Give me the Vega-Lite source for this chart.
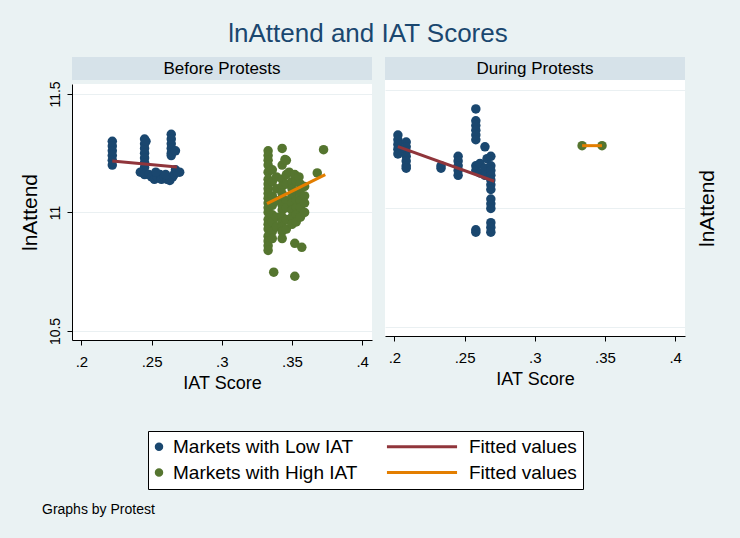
{
  "$schema": "https://vega.github.io/schema/vega-lite/v6.json",
  "background": "#eaf2f3",
  "padding": {"left": 19, "top": 21, "right": 23, "bottom": 23},
  "config": {
    "font": "Liberation Sans",
    "view": {"stroke": null},
    "axis": {"domainColor": "#000", "tickColor": "#000", "labelColor": "#000", "titleColor": "#000", "titleFontWeight": "normal", "gridColor": "#eaf0f2", "domainWidth": 1, "tickWidth": 1, "tickSize": 5},
    "legend": {
      "orient": "none", "legendX": 76, "legendY": 374,
      "columns": 2, "columnPadding": 22, "rowPadding": 6, "padding": 6,
      "fillColor": "white", "strokeColor": "#000",
      "labelFontSize": 19, "labelColor": "#000", "labelOffset": 8, "labelLimit": 300,
      "symbolSize": 30, "symbolStrokeWidth": 3
    }
  },
  "datasets": {
    "pts": [
      {"p":"B","s":"Markets with Low IAT","x":0.222,"y":11.30},
      {"p":"B","s":"Markets with Low IAT","x":0.222,"y":11.28},
      {"p":"B","s":"Markets with Low IAT","x":0.222,"y":11.26},
      {"p":"B","s":"Markets with Low IAT","x":0.222,"y":11.24},
      {"p":"B","s":"Markets with Low IAT","x":0.222,"y":11.22},
      {"p":"B","s":"Markets with Low IAT","x":0.222,"y":11.20},
      {"p":"B","s":"Markets with Low IAT","x":0.245,"y":11.31},
      {"p":"B","s":"Markets with Low IAT","x":0.245,"y":11.29},
      {"p":"B","s":"Markets with Low IAT","x":0.245,"y":11.27},
      {"p":"B","s":"Markets with Low IAT","x":0.245,"y":11.25},
      {"p":"B","s":"Markets with Low IAT","x":0.245,"y":11.23},
      {"p":"B","s":"Markets with Low IAT","x":0.245,"y":11.21},
      {"p":"B","s":"Markets with Low IAT","x":0.245,"y":11.19},
      {"p":"B","s":"Markets with Low IAT","x":0.246,"y":11.30},
      {"p":"B","s":"Markets with Low IAT","x":0.264,"y":11.33},
      {"p":"B","s":"Markets with Low IAT","x":0.264,"y":11.31},
      {"p":"B","s":"Markets with Low IAT","x":0.264,"y":11.29},
      {"p":"B","s":"Markets with Low IAT","x":0.264,"y":11.27},
      {"p":"B","s":"Markets with Low IAT","x":0.264,"y":11.25},
      {"p":"B","s":"Markets with Low IAT","x":0.264,"y":11.24},
      {"p":"B","s":"Markets with Low IAT","x":0.267,"y":11.26},
      {"p":"B","s":"Markets with Low IAT","x":0.267,"y":11.18},
      {"p":"B","s":"Markets with Low IAT","x":0.242,"y":11.17},
      {"p":"B","s":"Markets with Low IAT","x":0.245,"y":11.16},
      {"p":"B","s":"Markets with Low IAT","x":0.248,"y":11.16},
      {"p":"B","s":"Markets with Low IAT","x":0.250,"y":11.15},
      {"p":"B","s":"Markets with Low IAT","x":0.252,"y":11.14},
      {"p":"B","s":"Markets with Low IAT","x":0.254,"y":11.15},
      {"p":"B","s":"Markets with Low IAT","x":0.256,"y":11.16},
      {"p":"B","s":"Markets with Low IAT","x":0.257,"y":11.14},
      {"p":"B","s":"Markets with Low IAT","x":0.259,"y":11.15},
      {"p":"B","s":"Markets with Low IAT","x":0.261,"y":11.14},
      {"p":"B","s":"Markets with Low IAT","x":0.263,"y":11.135},
      {"p":"B","s":"Markets with Low IAT","x":0.265,"y":11.15},
      {"p":"B","s":"Markets with Low IAT","x":0.266,"y":11.16},
      {"p":"B","s":"Markets with Low IAT","x":0.268,"y":11.17},
      {"p":"B","s":"Markets with Low IAT","x":0.270,"y":11.17},
      {"p":"B","s":"Markets with Low IAT","x":0.253,"y":11.17},
      {"p":"B","s":"Markets with Low IAT","x":0.260,"y":11.16},

      {"p":"B","s":"Markets with High IAT","x":0.333,"y":11.26},
      {"p":"B","s":"Markets with High IAT","x":0.333,"y":11.24},
      {"p":"B","s":"Markets with High IAT","x":0.333,"y":11.22},
      {"p":"B","s":"Markets with High IAT","x":0.333,"y":11.20},
      {"p":"B","s":"Markets with High IAT","x":0.333,"y":11.17},
      {"p":"B","s":"Markets with High IAT","x":0.333,"y":11.14},
      {"p":"B","s":"Markets with High IAT","x":0.333,"y":11.12},
      {"p":"B","s":"Markets with High IAT","x":0.333,"y":11.10},
      {"p":"B","s":"Markets with High IAT","x":0.333,"y":11.08},
      {"p":"B","s":"Markets with High IAT","x":0.333,"y":11.06},
      {"p":"B","s":"Markets with High IAT","x":0.333,"y":11.04},
      {"p":"B","s":"Markets with High IAT","x":0.333,"y":11.02},
      {"p":"B","s":"Markets with High IAT","x":0.333,"y":11.00},
      {"p":"B","s":"Markets with High IAT","x":0.333,"y":10.97},
      {"p":"B","s":"Markets with High IAT","x":0.333,"y":10.95},
      {"p":"B","s":"Markets with High IAT","x":0.333,"y":10.93},
      {"p":"B","s":"Markets with High IAT","x":0.333,"y":10.90},
      {"p":"B","s":"Markets with High IAT","x":0.333,"y":10.88},
      {"p":"B","s":"Markets with High IAT","x":0.333,"y":10.86},
      {"p":"B","s":"Markets with High IAT","x":0.333,"y":10.84},
      {"p":"B","s":"Markets with High IAT","x":0.336,"y":11.18},
      {"p":"B","s":"Markets with High IAT","x":0.336,"y":11.13},
      {"p":"B","s":"Markets with High IAT","x":0.336,"y":11.07},
      {"p":"B","s":"Markets with High IAT","x":0.336,"y":11.03},
      {"p":"B","s":"Markets with High IAT","x":0.336,"y":10.99},
      {"p":"B","s":"Markets with High IAT","x":0.336,"y":10.96},
      {"p":"B","s":"Markets with High IAT","x":0.336,"y":10.92},
      {"p":"B","s":"Markets with High IAT","x":0.336,"y":10.89},
      {"p":"B","s":"Markets with High IAT","x":0.339,"y":11.15},
      {"p":"B","s":"Markets with High IAT","x":0.339,"y":11.10},
      {"p":"B","s":"Markets with High IAT","x":0.339,"y":11.05},
      {"p":"B","s":"Markets with High IAT","x":0.339,"y":10.98},
      {"p":"B","s":"Markets with High IAT","x":0.339,"y":10.94},
      {"p":"B","s":"Markets with High IAT","x":0.343,"y":11.27},
      {"p":"B","s":"Markets with High IAT","x":0.343,"y":11.20},
      {"p":"B","s":"Markets with High IAT","x":0.343,"y":11.14},
      {"p":"B","s":"Markets with High IAT","x":0.343,"y":11.11},
      {"p":"B","s":"Markets with High IAT","x":0.343,"y":11.08},
      {"p":"B","s":"Markets with High IAT","x":0.343,"y":11.06},
      {"p":"B","s":"Markets with High IAT","x":0.343,"y":11.03},
      {"p":"B","s":"Markets with High IAT","x":0.343,"y":11.01},
      {"p":"B","s":"Markets with High IAT","x":0.343,"y":10.98},
      {"p":"B","s":"Markets with High IAT","x":0.343,"y":10.96},
      {"p":"B","s":"Markets with High IAT","x":0.343,"y":10.94},
      {"p":"B","s":"Markets with High IAT","x":0.343,"y":10.92},
      {"p":"B","s":"Markets with High IAT","x":0.343,"y":10.89},
      {"p":"B","s":"Markets with High IAT","x":0.346,"y":11.22},
      {"p":"B","s":"Markets with High IAT","x":0.346,"y":11.16},
      {"p":"B","s":"Markets with High IAT","x":0.346,"y":11.12},
      {"p":"B","s":"Markets with High IAT","x":0.346,"y":11.05},
      {"p":"B","s":"Markets with High IAT","x":0.346,"y":11.02},
      {"p":"B","s":"Markets with High IAT","x":0.346,"y":10.97},
      {"p":"B","s":"Markets with High IAT","x":0.346,"y":10.93},
      {"p":"B","s":"Markets with High IAT","x":0.348,"y":11.17},
      {"p":"B","s":"Markets with High IAT","x":0.350,"y":11.13},
      {"p":"B","s":"Markets with High IAT","x":0.350,"y":11.10},
      {"p":"B","s":"Markets with High IAT","x":0.350,"y":11.07},
      {"p":"B","s":"Markets with High IAT","x":0.350,"y":11.04},
      {"p":"B","s":"Markets with High IAT","x":0.350,"y":11.01},
      {"p":"B","s":"Markets with High IAT","x":0.350,"y":10.98},
      {"p":"B","s":"Markets with High IAT","x":0.350,"y":10.95},
      {"p":"B","s":"Markets with High IAT","x":0.352,"y":11.16},
      {"p":"B","s":"Markets with High IAT","x":0.353,"y":11.13},
      {"p":"B","s":"Markets with High IAT","x":0.353,"y":11.09},
      {"p":"B","s":"Markets with High IAT","x":0.353,"y":11.05},
      {"p":"B","s":"Markets with High IAT","x":0.353,"y":11.02},
      {"p":"B","s":"Markets with High IAT","x":0.353,"y":10.99},
      {"p":"B","s":"Markets with High IAT","x":0.353,"y":10.96},
      {"p":"B","s":"Markets with High IAT","x":0.355,"y":11.15},
      {"p":"B","s":"Markets with High IAT","x":0.356,"y":11.12},
      {"p":"B","s":"Markets with High IAT","x":0.356,"y":11.08},
      {"p":"B","s":"Markets with High IAT","x":0.356,"y":11.05},
      {"p":"B","s":"Markets with High IAT","x":0.356,"y":11.02},
      {"p":"B","s":"Markets with High IAT","x":0.356,"y":10.98},
      {"p":"B","s":"Markets with High IAT","x":0.359,"y":11.11},
      {"p":"B","s":"Markets with High IAT","x":0.359,"y":11.07},
      {"p":"B","s":"Markets with High IAT","x":0.359,"y":11.04},
      {"p":"B","s":"Markets with High IAT","x":0.359,"y":11.00},
      {"p":"B","s":"Markets with High IAT","x":0.337,"y":10.748},
      {"p":"B","s":"Markets with High IAT","x":0.352,"y":10.731},
      {"p":"B","s":"Markets with High IAT","x":0.352,"y":10.87},
      {"p":"B","s":"Markets with High IAT","x":0.357,"y":10.853},
      {"p":"B","s":"Markets with High IAT","x":0.368,"y":11.167},
      {"p":"B","s":"Markets with High IAT","x":0.3725,"y":11.265},
      {"p":"B","s":"Markets with High IAT","x":0.345,"y":11.223},

      {"p":"D","s":"Markets with Low IAT","x":0.2025,"y":11.31},
      {"p":"D","s":"Markets with Low IAT","x":0.2025,"y":11.29},
      {"p":"D","s":"Markets with Low IAT","x":0.2025,"y":11.27},
      {"p":"D","s":"Markets with Low IAT","x":0.2025,"y":11.25},
      {"p":"D","s":"Markets with Low IAT","x":0.2025,"y":11.23},
      {"p":"D","s":"Markets with Low IAT","x":0.2084,"y":11.28},
      {"p":"D","s":"Markets with Low IAT","x":0.2084,"y":11.26},
      {"p":"D","s":"Markets with Low IAT","x":0.2084,"y":11.24},
      {"p":"D","s":"Markets with Low IAT","x":0.2084,"y":11.22},
      {"p":"D","s":"Markets with Low IAT","x":0.2084,"y":11.20},
      {"p":"D","s":"Markets with Low IAT","x":0.2084,"y":11.18},
      {"p":"D","s":"Markets with Low IAT","x":0.2084,"y":11.17},
      {"p":"D","s":"Markets with Low IAT","x":0.2332,"y":11.18},
      {"p":"D","s":"Markets with Low IAT","x":0.2332,"y":11.17},
      {"p":"D","s":"Markets with Low IAT","x":0.2454,"y":11.22},
      {"p":"D","s":"Markets with Low IAT","x":0.2454,"y":11.20},
      {"p":"D","s":"Markets with Low IAT","x":0.2454,"y":11.18},
      {"p":"D","s":"Markets with Low IAT","x":0.2454,"y":11.16},
      {"p":"D","s":"Markets with Low IAT","x":0.2454,"y":11.14},
      {"p":"D","s":"Markets with Low IAT","x":0.258,"y":11.42},
      {"p":"D","s":"Markets with Low IAT","x":0.258,"y":11.37},
      {"p":"D","s":"Markets with Low IAT","x":0.258,"y":11.35},
      {"p":"D","s":"Markets with Low IAT","x":0.258,"y":11.33},
      {"p":"D","s":"Markets with Low IAT","x":0.258,"y":11.31},
      {"p":"D","s":"Markets with Low IAT","x":0.258,"y":11.29},
      {"p":"D","s":"Markets with Low IAT","x":0.258,"y":11.18},
      {"p":"D","s":"Markets with Low IAT","x":0.258,"y":11.16},
      {"p":"D","s":"Markets with Low IAT","x":0.258,"y":10.91},
      {"p":"D","s":"Markets with Low IAT","x":0.258,"y":10.90},
      {"p":"D","s":"Markets with Low IAT","x":0.261,"y":11.19},
      {"p":"D","s":"Markets with Low IAT","x":0.261,"y":11.15},
      {"p":"D","s":"Markets with Low IAT","x":0.2645,"y":11.26},
      {"p":"D","s":"Markets with Low IAT","x":0.2645,"y":11.17},
      {"p":"D","s":"Markets with Low IAT","x":0.2645,"y":11.14},
      {"p":"D","s":"Markets with Low IAT","x":0.266,"y":11.21},
      {"p":"D","s":"Markets with Low IAT","x":0.2687,"y":11.22},
      {"p":"D","s":"Markets with Low IAT","x":0.2687,"y":11.18},
      {"p":"D","s":"Markets with Low IAT","x":0.2687,"y":11.16},
      {"p":"D","s":"Markets with Low IAT","x":0.2687,"y":11.14},
      {"p":"D","s":"Markets with Low IAT","x":0.2687,"y":11.12},
      {"p":"D","s":"Markets with Low IAT","x":0.2687,"y":11.10},
      {"p":"D","s":"Markets with Low IAT","x":0.2687,"y":11.08},
      {"p":"D","s":"Markets with Low IAT","x":0.2687,"y":11.04},
      {"p":"D","s":"Markets with Low IAT","x":0.2687,"y":11.02},
      {"p":"D","s":"Markets with Low IAT","x":0.2687,"y":11.00},
      {"p":"D","s":"Markets with Low IAT","x":0.2687,"y":10.94},
      {"p":"D","s":"Markets with Low IAT","x":0.2687,"y":10.92},
      {"p":"D","s":"Markets with Low IAT","x":0.2687,"y":10.90},

      {"p":"D","s":"Markets with High IAT","x":0.3337,"y":11.265},
      {"p":"D","s":"Markets with High IAT","x":0.3479,"y":11.265}
    ],
    "fit": [
      {"p":"B","s":"Fitted low","x":0.222,"y":11.217},
      {"p":"B","s":"Fitted low","x":0.268,"y":11.192},
      {"p":"B","s":"Fitted high","x":0.3322,"y":11.037},
      {"p":"B","s":"Fitted high","x":0.3737,"y":11.16},
      {"p":"D","s":"Fitted low","x":0.2025,"y":11.261},
      {"p":"D","s":"Fitted low","x":0.2711,"y":11.115},
      {"p":"D","s":"Fitted high","x":0.3337,"y":11.265},
      {"p":"D","s":"Fitted high","x":0.3479,"y":11.265}
    ]
  },
  "title": {"text": "lnAttend and IAT Scores", "fontSize": 26, "fontWeight": "normal", "color": "#1a476f", "anchor": "middle", "offset": 10},
  "vconcat": [
    {
      "title": {"text": "Graphs by Protest", "orient": "bottom", "anchor": "start", "fontSize": 14, "fontWeight": "normal", "color": "#000", "offset": 111, "dx": 23},
      "spacing": 13,
      "hconcat": [
        {
          "spacing": 0,
          "vconcat": [
            {
              "data": {"values": [{"t": "Before Protests"}]},
              "width": 300, "height": 23,
              "view": {"fill": "#d6e2e9", "stroke": null},
              "mark": {"type": "text", "fontSize": 17, "color": "#000"},
              "encoding": {"text": {"field": "t"}}
            },
            {
              "width": 300, "height": 256,
              "view": {"fill": "white", "stroke": null},
              "layer": [
                {
                  "data": {"name": "pts"},
                  "transform": [{"filter": "datum.p == 'B'"}],
                  "mark": {"type": "circle", "size": 90, "opacity": 1},
                  "encoding": {
                    "x": {"field": "x", "type": "quantitative", "scale": {"domain": [0.1933, 0.407], "nice": false, "zero": false},
                      "axis": {"values": [0.2, 0.25, 0.3, 0.35, 0.4], "labelExpr": "replace(format(datum.value, '.2~f'), '0.', '.')", "labelFontSize": 15, "labelPadding": 9, "grid": false, "title": "IAT Score", "titleFontSize": 18, "titlePadding": 5}},
                    "y": {"field": "y", "type": "quantitative", "scale": {"domain": [10.462, 11.542], "nice": false, "zero": false},
                      "axis": {"values": [10.5, 11, 11.5], "format": "~g", "labelAngle": 270, "labelAlign": "center", "labelBaseline": "bottom", "labelPadding": 5, "labelFontSize": 14, "grid": true, "title": "lnAttend", "titleFontSize": 21, "titlePadding": 8}},
                    "color": {"field": "s", "type": "nominal",
                      "scale": {"domain": ["Markets with Low IAT", "Markets with High IAT", "Fitted low", "Fitted high"], "range": ["#1a476f", "#55752f", "#90353b", "#e37e00"]},
                      "legend": {
                        "title": null,
                        "labelExpr": "indexof(datum.label, 'Fitted') == 0 ? 'Fitted values' : datum.label",
                        "encode": {
                          "symbols": {"update": {
                            "shape": {"signal": "indexof(datum.value, 'Fitted') == 0 ? 'M-12.8,0H12.8' : 'circle'"},
                            "x": {"signal": "indexof(datum.value, 'Fitted') == 0 ? 35 : 5"},
                            "fill": {"scale": "color", "field": "value"},
                            "stroke": {"scale": "color", "field": "value"},
                            "opacity": {"value": 1}
                          }},
                          "labels": {"update": {
                            "x": {"signal": "indexof(datum.value, 'Fitted') == 0 ? 82 : 19"}
                          }}
                        }
                      }}
                  }
                },
                {
                  "data": {"name": "fit"},
                  "transform": [{"filter": "datum.p == 'B'"}],
                  "mark": {"type": "line", "strokeWidth": 3},
                  "encoding": {
                    "x": {"field": "x", "type": "quantitative"},
                    "y": {"field": "y", "type": "quantitative"},
                    "color": {"field": "s", "type": "nominal",
                      "legend": {
                        "title": null,
                        "labelExpr": "indexof(datum.label, 'Fitted') == 0 ? 'Fitted values' : datum.label",
                        "encode": {
                          "symbols": {"update": {
                            "shape": {"signal": "indexof(datum.value, 'Fitted') == 0 ? 'M-12.8,0H12.8' : 'circle'"},
                            "x": {"signal": "indexof(datum.value, 'Fitted') == 0 ? 35 : 5"},
                            "fill": {"scale": "color", "field": "value"},
                            "stroke": {"scale": "color", "field": "value"},
                            "opacity": {"value": 1}
                          }},
                          "labels": {"update": {
                            "x": {"signal": "indexof(datum.value, 'Fitted') == 0 ? 82 : 19"}
                          }}
                        }
                      }},
                    "detail": {"field": "s"}
                  }
                }
              ]
            }
          ]
        },
        {
          "spacing": 0,
          "vconcat": [
            {
              "data": {"values": [{"t": "During Protests"}]},
              "width": 300, "height": 23,
              "view": {"fill": "#d6e2e9", "stroke": null},
              "mark": {"type": "text", "fontSize": 17, "color": "#000"},
              "encoding": {"text": {"field": "t"}}
            },
            {
              "width": 300, "height": 256,
              "view": {"fill": "white", "stroke": null},
              "layer": [
                {
                  "data": {"name": "pts"},
                  "transform": [{"filter": "datum.p == 'D'"}],
                  "mark": {"type": "circle", "size": 90, "opacity": 1},
                  "encoding": {
                    "x": {"field": "x", "type": "quantitative", "scale": {"domain": [0.1933, 0.407], "nice": false, "zero": false},
                      "axis": {"values": [0.2, 0.25, 0.3, 0.35, 0.4], "labelExpr": "replace(format(datum.value, '.2~f'), '0.', '.')", "labelFontSize": 15, "labelPadding": 9, "grid": false, "title": "IAT Score", "titleFontSize": 18, "titlePadding": 5}},
                    "y": {"field": "y", "type": "quantitative", "scale": {"domain": [10.462, 11.542], "nice": false, "zero": false},
                      "axis": {"orient": "right", "values": [10.5, 11, 11.5], "labels": false, "ticks": false, "domain": false, "grid": true, "title": "lnAttend", "titleFontSize": 21, "titleAngle": 270, "titleBaseline": "top", "titlePadding": 11}},
                    "color": {"field": "s", "type": "nominal",
                      "legend": {
                        "title": null,
                        "labelExpr": "indexof(datum.label, 'Fitted') == 0 ? 'Fitted values' : datum.label",
                        "encode": {
                          "symbols": {"update": {
                            "shape": {"signal": "indexof(datum.value, 'Fitted') == 0 ? 'M-12.8,0H12.8' : 'circle'"},
                            "x": {"signal": "indexof(datum.value, 'Fitted') == 0 ? 35 : 5"},
                            "fill": {"scale": "color", "field": "value"},
                            "stroke": {"scale": "color", "field": "value"},
                            "opacity": {"value": 1}
                          }},
                          "labels": {"update": {
                            "x": {"signal": "indexof(datum.value, 'Fitted') == 0 ? 82 : 19"}
                          }}
                        }
                      }}
                  }
                },
                {
                  "data": {"name": "fit"},
                  "transform": [{"filter": "datum.p == 'D'"}],
                  "mark": {"type": "line", "strokeWidth": 3},
                  "encoding": {
                    "x": {"field": "x", "type": "quantitative"},
                    "y": {"field": "y", "type": "quantitative"},
                    "color": {"field": "s", "type": "nominal",
                      "legend": {
                        "title": null,
                        "labelExpr": "indexof(datum.label, 'Fitted') == 0 ? 'Fitted values' : datum.label",
                        "encode": {
                          "symbols": {"update": {
                            "shape": {"signal": "indexof(datum.value, 'Fitted') == 0 ? 'M-12.8,0H12.8' : 'circle'"},
                            "x": {"signal": "indexof(datum.value, 'Fitted') == 0 ? 35 : 5"},
                            "fill": {"scale": "color", "field": "value"},
                            "stroke": {"scale": "color", "field": "value"},
                            "opacity": {"value": 1}
                          }},
                          "labels": {"update": {
                            "x": {"signal": "indexof(datum.value, 'Fitted') == 0 ? 82 : 19"}
                          }}
                        }
                      }},
                    "detail": {"field": "s"}
                  }
                }
              ]
            }
          ]
        }
      ]
    }
  ]
}
